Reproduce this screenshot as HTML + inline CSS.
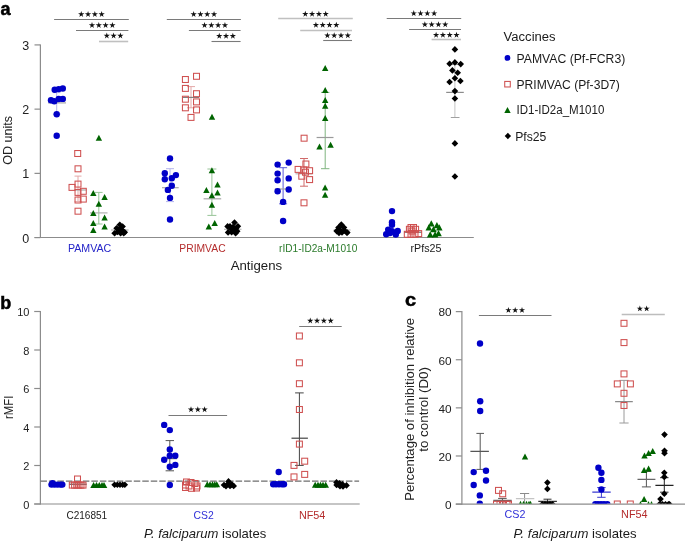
<!DOCTYPE html>
<html><head><meta charset="utf-8"><style>
html,body{margin:0;padding:0;background:#fff;}
body{width:685px;height:541px;overflow:hidden;}
svg{display:block;will-change:transform;}
text{font-family:"Liberation Sans",sans-serif;}
</style></head><body>
<svg width="685" height="541" viewBox="0 0 685 541" font-family="Liberation Sans, sans-serif">
<rect width="685" height="541" fill="#fff"/>
<text x="0.50" y="15.00" font-size="18" text-anchor="start" fill="#000" font-weight="bold" font-style="normal" stroke="#000" stroke-width="0.5">a</text>
<line x1="40.40" y1="44.41" x2="40.40" y2="237.90" stroke="#8c8c8c" stroke-width="1.2" />
<line x1="34.50" y1="237.50" x2="473.80" y2="237.50" stroke="#8c8c8c" stroke-width="1.2" />
<line x1="34.50" y1="237.60" x2="40.40" y2="237.60" stroke="#8c8c8c" stroke-width="1.2" />
<text x="29.30" y="242.60" font-size="12.5" text-anchor="end" fill="#222" font-weight="normal" font-style="normal" >0</text>
<line x1="34.50" y1="173.37" x2="40.40" y2="173.37" stroke="#8c8c8c" stroke-width="1.2" />
<text x="29.30" y="178.37" font-size="12.5" text-anchor="end" fill="#222" font-weight="normal" font-style="normal" >1</text>
<line x1="34.50" y1="109.14" x2="40.40" y2="109.14" stroke="#8c8c8c" stroke-width="1.2" />
<text x="29.30" y="114.14" font-size="12.5" text-anchor="end" fill="#222" font-weight="normal" font-style="normal" >2</text>
<line x1="34.50" y1="44.91" x2="40.40" y2="44.91" stroke="#8c8c8c" stroke-width="1.2" />
<text x="29.30" y="49.91" font-size="12.5" text-anchor="end" fill="#222" font-weight="normal" font-style="normal" >3</text>
<text x="0" y="0" font-size="12.5" fill="#222" text-anchor="middle" textLength="48.80" lengthAdjust="spacingAndGlyphs" transform="translate(12.30 140.40) rotate(-90)">OD units</text>
<text x="67.90" y="251.90" font-size="10.6" fill="#2424c8" font-weight="normal" textLength="43.40" lengthAdjust="spacingAndGlyphs" >PAMVAC</text>
<text x="179.30" y="251.90" font-size="10.6" fill="#b42c2c" font-weight="normal" textLength="46.30" lengthAdjust="spacingAndGlyphs" >PRIMVAC</text>
<text x="279.10" y="251.90" font-size="10.6" fill="#2a7a2a" font-weight="normal" textLength="78.20" lengthAdjust="spacingAndGlyphs" >rID1-ID2a-M1010</text>
<text x="410.50" y="251.90" font-size="10.6" fill="#1a1a1a" font-weight="normal" textLength="30.90" lengthAdjust="spacingAndGlyphs" >rPfs25</text>
<text x="230.70" y="269.60" font-size="12.9" fill="#1a1a1a" font-weight="normal" textLength="51.40" lengthAdjust="spacingAndGlyphs" >Antigens</text>
<line x1="54.10" y1="19.50" x2="128.80" y2="19.50" stroke="#7a7a7a" stroke-width="1.1" />
<polygon points="81.25,10.95 81.98,13.24 84.39,13.23 82.44,14.64 83.19,16.92 81.25,15.50 79.31,16.92 80.06,14.64 78.11,13.23 80.52,13.24" fill="#111"/>
<polygon points="88.05,10.95 88.78,13.24 91.19,13.23 89.24,14.64 89.99,16.92 88.05,15.50 86.11,16.92 86.86,14.64 84.91,13.23 87.32,13.24" fill="#111"/>
<polygon points="94.85,10.95 95.58,13.24 97.99,13.23 96.04,14.64 96.79,16.92 94.85,15.50 92.91,16.92 93.66,14.64 91.71,13.23 94.12,13.24" fill="#111"/>
<polygon points="101.65,10.95 102.38,13.24 104.79,13.23 102.84,14.64 103.59,16.92 101.65,15.50 99.71,16.92 100.46,14.64 98.51,13.23 100.92,13.24" fill="#111"/>
<line x1="76.00" y1="30.50" x2="128.40" y2="30.50" stroke="#7a7a7a" stroke-width="1.1" />
<polygon points="92.00,22.05 92.73,24.34 95.14,24.33 93.19,25.74 93.94,28.02 92.00,26.60 90.06,28.02 90.81,25.74 88.86,24.33 91.27,24.34" fill="#111"/>
<polygon points="98.80,22.05 99.53,24.34 101.94,24.33 99.99,25.74 100.74,28.02 98.80,26.60 96.86,28.02 97.61,25.74 95.66,24.33 98.07,24.34" fill="#111"/>
<polygon points="105.60,22.05 106.33,24.34 108.74,24.33 106.79,25.74 107.54,28.02 105.60,26.60 103.66,28.02 104.41,25.74 102.46,24.33 104.87,24.34" fill="#111"/>
<polygon points="112.40,22.05 113.13,24.34 115.54,24.33 113.59,25.74 114.34,28.02 112.40,26.60 110.46,28.02 111.21,25.74 109.26,24.33 111.67,24.34" fill="#111"/>
<line x1="99.00" y1="41.50" x2="128.20" y2="41.50" stroke="#c0c0c0" stroke-width="1.6" />
<polygon points="106.80,32.55 107.53,34.84 109.94,34.83 107.99,36.24 108.74,38.52 106.80,37.10 104.86,38.52 105.61,36.24 103.66,34.83 106.07,34.84" fill="#111"/>
<polygon points="113.60,32.55 114.33,34.84 116.74,34.83 114.79,36.24 115.54,38.52 113.60,37.10 111.66,38.52 112.41,36.24 110.46,34.83 112.87,34.84" fill="#111"/>
<polygon points="120.40,32.55 121.13,34.84 123.54,34.83 121.59,36.24 122.34,38.52 120.40,37.10 118.46,38.52 119.21,36.24 117.26,34.83 119.67,34.84" fill="#111"/>
<line x1="166.80" y1="19.50" x2="240.90" y2="19.50" stroke="#7a7a7a" stroke-width="1.1" />
<polygon points="193.65,10.95 194.38,13.24 196.79,13.23 194.84,14.64 195.59,16.92 193.65,15.50 191.71,16.92 192.46,14.64 190.51,13.23 192.92,13.24" fill="#111"/>
<polygon points="200.45,10.95 201.18,13.24 203.59,13.23 201.64,14.64 202.39,16.92 200.45,15.50 198.51,16.92 199.26,14.64 197.31,13.23 199.72,13.24" fill="#111"/>
<polygon points="207.25,10.95 207.98,13.24 210.39,13.23 208.44,14.64 209.19,16.92 207.25,15.50 205.31,16.92 206.06,14.64 204.11,13.23 206.52,13.24" fill="#111"/>
<polygon points="214.05,10.95 214.78,13.24 217.19,13.23 215.24,14.64 215.99,16.92 214.05,15.50 212.11,16.92 212.86,14.64 210.91,13.23 213.32,13.24" fill="#111"/>
<line x1="188.90" y1="30.50" x2="240.60" y2="30.50" stroke="#7a7a7a" stroke-width="1.1" />
<polygon points="204.55,22.05 205.28,24.34 207.69,24.33 205.74,25.74 206.49,28.02 204.55,26.60 202.61,28.02 203.36,25.74 201.41,24.33 203.82,24.34" fill="#111"/>
<polygon points="211.35,22.05 212.08,24.34 214.49,24.33 212.54,25.74 213.29,28.02 211.35,26.60 209.41,28.02 210.16,25.74 208.21,24.33 210.62,24.34" fill="#111"/>
<polygon points="218.15,22.05 218.88,24.34 221.29,24.33 219.34,25.74 220.09,28.02 218.15,26.60 216.21,28.02 216.96,25.74 215.01,24.33 217.42,24.34" fill="#111"/>
<polygon points="224.95,22.05 225.68,24.34 228.09,24.33 226.14,25.74 226.89,28.02 224.95,26.60 223.01,28.02 223.76,25.74 221.81,24.33 224.22,24.34" fill="#111"/>
<line x1="211.50" y1="41.50" x2="240.60" y2="41.50" stroke="#7a7a7a" stroke-width="1.1" />
<polygon points="219.25,32.75 219.98,35.04 222.39,35.03 220.44,36.44 221.19,38.72 219.25,37.30 217.31,38.72 218.06,36.44 216.11,35.03 218.52,35.04" fill="#111"/>
<polygon points="226.05,32.75 226.78,35.04 229.19,35.03 227.24,36.44 227.99,38.72 226.05,37.30 224.11,38.72 224.86,36.44 222.91,35.03 225.32,35.04" fill="#111"/>
<polygon points="232.85,32.75 233.58,35.04 235.99,35.03 234.04,36.44 234.79,38.72 232.85,37.30 230.91,38.72 231.66,36.44 229.71,35.03 232.12,35.04" fill="#111"/>
<line x1="278.20" y1="18.50" x2="352.80" y2="18.50" stroke="#c0c0c0" stroke-width="1.6" />
<polygon points="305.30,10.70 306.03,12.99 308.44,12.98 306.49,14.39 307.24,16.67 305.30,15.25 303.36,16.67 304.11,14.39 302.16,12.98 304.57,12.99" fill="#111"/>
<polygon points="312.10,10.70 312.83,12.99 315.24,12.98 313.29,14.39 314.04,16.67 312.10,15.25 310.16,16.67 310.91,14.39 308.96,12.98 311.37,12.99" fill="#111"/>
<polygon points="318.90,10.70 319.63,12.99 322.04,12.98 320.09,14.39 320.84,16.67 318.90,15.25 316.96,16.67 317.71,14.39 315.76,12.98 318.17,12.99" fill="#111"/>
<polygon points="325.70,10.70 326.43,12.99 328.84,12.98 326.89,14.39 327.64,16.67 325.70,15.25 323.76,16.67 324.51,14.39 322.56,12.98 324.97,12.99" fill="#111"/>
<line x1="300.20" y1="30.50" x2="352.00" y2="30.50" stroke="#c0c0c0" stroke-width="1.6" />
<polygon points="315.90,21.75 316.63,24.04 319.04,24.03 317.09,25.44 317.84,27.72 315.90,26.30 313.96,27.72 314.71,25.44 312.76,24.03 315.17,24.04" fill="#111"/>
<polygon points="322.70,21.75 323.43,24.04 325.84,24.03 323.89,25.44 324.64,27.72 322.70,26.30 320.76,27.72 321.51,25.44 319.56,24.03 321.97,24.04" fill="#111"/>
<polygon points="329.50,21.75 330.23,24.04 332.64,24.03 330.69,25.44 331.44,27.72 329.50,26.30 327.56,27.72 328.31,25.44 326.36,24.03 328.77,24.04" fill="#111"/>
<polygon points="336.30,21.75 337.03,24.04 339.44,24.03 337.49,25.44 338.24,27.72 336.30,26.30 334.36,27.72 335.11,25.44 333.16,24.03 335.57,24.04" fill="#111"/>
<line x1="323.20" y1="40.50" x2="352.00" y2="40.50" stroke="#7a7a7a" stroke-width="1.1" />
<polygon points="327.40,32.20 328.13,34.49 330.54,34.48 328.59,35.89 329.34,38.17 327.40,36.75 325.46,38.17 326.21,35.89 324.26,34.48 326.67,34.49" fill="#111"/>
<polygon points="334.20,32.20 334.93,34.49 337.34,34.48 335.39,35.89 336.14,38.17 334.20,36.75 332.26,38.17 333.01,35.89 331.06,34.48 333.47,34.49" fill="#111"/>
<polygon points="341.00,32.20 341.73,34.49 344.14,34.48 342.19,35.89 342.94,38.17 341.00,36.75 339.06,38.17 339.81,35.89 337.86,34.48 340.27,34.49" fill="#111"/>
<polygon points="347.80,32.20 348.53,34.49 350.94,34.48 348.99,35.89 349.74,38.17 347.80,36.75 345.86,38.17 346.61,35.89 344.66,34.48 347.07,34.49" fill="#111"/>
<line x1="386.70" y1="18.50" x2="461.20" y2="18.50" stroke="#7a7a7a" stroke-width="1.1" />
<polygon points="413.75,10.10 414.48,12.39 416.89,12.38 414.94,13.79 415.69,16.07 413.75,14.65 411.81,16.07 412.56,13.79 410.61,12.38 413.02,12.39" fill="#111"/>
<polygon points="420.55,10.10 421.28,12.39 423.69,12.38 421.74,13.79 422.49,16.07 420.55,14.65 418.61,16.07 419.36,13.79 417.41,12.38 419.82,12.39" fill="#111"/>
<polygon points="427.35,10.10 428.08,12.39 430.49,12.38 428.54,13.79 429.29,16.07 427.35,14.65 425.41,16.07 426.16,13.79 424.21,12.38 426.62,12.39" fill="#111"/>
<polygon points="434.15,10.10 434.88,12.39 437.29,12.38 435.34,13.79 436.09,16.07 434.15,14.65 432.21,16.07 432.96,13.79 431.01,12.38 433.42,12.39" fill="#111"/>
<line x1="409.10" y1="29.50" x2="461.00" y2="29.50" stroke="#7a7a7a" stroke-width="1.1" />
<polygon points="424.85,21.30 425.58,23.59 427.99,23.58 426.04,24.99 426.79,27.27 424.85,25.85 422.91,27.27 423.66,24.99 421.71,23.58 424.12,23.59" fill="#111"/>
<polygon points="431.65,21.30 432.38,23.59 434.79,23.58 432.84,24.99 433.59,27.27 431.65,25.85 429.71,27.27 430.46,24.99 428.51,23.58 430.92,23.59" fill="#111"/>
<polygon points="438.45,21.30 439.18,23.59 441.59,23.58 439.64,24.99 440.39,27.27 438.45,25.85 436.51,27.27 437.26,24.99 435.31,23.58 437.72,23.59" fill="#111"/>
<polygon points="445.25,21.30 445.98,23.59 448.39,23.58 446.44,24.99 447.19,27.27 445.25,25.85 443.31,27.27 444.06,24.99 442.11,23.58 444.52,23.59" fill="#111"/>
<line x1="431.60" y1="39.50" x2="461.00" y2="39.50" stroke="#c0c0c0" stroke-width="1.6" />
<polygon points="436.10,31.70 436.83,33.99 439.24,33.98 437.29,35.39 438.04,37.67 436.10,36.25 434.16,37.67 434.91,35.39 432.96,33.98 435.37,33.99" fill="#111"/>
<polygon points="442.90,31.70 443.63,33.99 446.04,33.98 444.09,35.39 444.84,37.67 442.90,36.25 440.96,37.67 441.71,35.39 439.76,33.98 442.17,33.99" fill="#111"/>
<polygon points="449.70,31.70 450.43,33.99 452.84,33.98 450.89,35.39 451.64,37.67 449.70,36.25 447.76,37.67 448.51,35.39 446.56,33.98 448.97,33.99" fill="#111"/>
<polygon points="456.50,31.70 457.23,33.99 459.64,33.98 457.69,35.39 458.44,37.67 456.50,36.25 454.56,37.67 455.31,35.39 453.36,33.98 455.77,33.99" fill="#111"/>
<line x1="56.70" y1="92.60" x2="56.70" y2="114.00" stroke="#b4b4ec" stroke-width="1.0" />
<line x1="52.90" y1="92.60" x2="60.50" y2="92.60" stroke="#b4b4ec" stroke-width="1.0" />
<line x1="52.90" y1="114.00" x2="60.50" y2="114.00" stroke="#b4b4ec" stroke-width="1.0" />
<line x1="48.00" y1="102.90" x2="66.00" y2="102.90" stroke="#a8a8a8" stroke-width="1.2" />
<line x1="78.00" y1="176.10" x2="78.00" y2="201.60" stroke="#e4a8a8" stroke-width="1.0" />
<line x1="74.50" y1="176.10" x2="81.50" y2="176.10" stroke="#e4a8a8" stroke-width="1.0" />
<line x1="74.50" y1="201.60" x2="81.50" y2="201.60" stroke="#e4a8a8" stroke-width="1.0" />
<line x1="75.00" y1="190.00" x2="86.60" y2="190.00" stroke="#a8a8a8" stroke-width="1.2" />
<line x1="98.80" y1="192.40" x2="98.80" y2="224.00" stroke="#98c498" stroke-width="1.0" />
<line x1="95.00" y1="192.40" x2="102.60" y2="192.40" stroke="#98c498" stroke-width="1.0" />
<line x1="95.00" y1="224.00" x2="102.60" y2="224.00" stroke="#98c498" stroke-width="1.0" />
<line x1="90.00" y1="212.90" x2="107.50" y2="212.90" stroke="#b0b0b0" stroke-width="1.2" />
<line x1="111.00" y1="230.00" x2="128.60" y2="230.00" stroke="#b8b8b8" stroke-width="1.2" />
<circle cx="54.7" cy="89.8" r="3.2" fill="#0000c8"/>
<circle cx="58.7" cy="89.1" r="3.2" fill="#0000c8"/>
<circle cx="62.8" cy="88.5" r="3.2" fill="#0000c8"/>
<circle cx="51.0" cy="100.2" r="3.2" fill="#0000c8"/>
<circle cx="54.3" cy="101.3" r="3.2" fill="#0000c8"/>
<circle cx="58.7" cy="99.0" r="3.2" fill="#0000c8"/>
<circle cx="62.8" cy="98.9" r="3.2" fill="#0000c8"/>
<circle cx="56.7" cy="114.3" r="3.2" fill="#0000c8"/>
<circle cx="56.7" cy="135.8" r="3.2" fill="#0000c8"/>
<rect x="74.73" y="150.53" width="5.95" height="5.95" fill="none" stroke="#cf5050" stroke-width="1.05"/>
<rect x="75.03" y="165.83" width="5.95" height="5.95" fill="none" stroke="#cf5050" stroke-width="1.05"/>
<rect x="75.03" y="181.12" width="5.95" height="5.95" fill="none" stroke="#cf5050" stroke-width="1.05"/>
<rect x="69.03" y="184.43" width="5.95" height="5.95" fill="none" stroke="#cf5050" stroke-width="1.05"/>
<rect x="80.33" y="188.33" width="5.95" height="5.95" fill="none" stroke="#cf5050" stroke-width="1.05"/>
<rect x="75.03" y="189.43" width="5.95" height="5.95" fill="none" stroke="#cf5050" stroke-width="1.05"/>
<rect x="75.03" y="197.03" width="5.95" height="5.95" fill="none" stroke="#cf5050" stroke-width="1.05"/>
<rect x="80.33" y="196.12" width="5.95" height="5.95" fill="none" stroke="#cf5050" stroke-width="1.05"/>
<rect x="75.03" y="208.22" width="5.95" height="5.95" fill="none" stroke="#cf5050" stroke-width="1.05"/>
<polygon points="98.90,134.80 102.10,140.80 95.70,140.80" fill="#006400"/>
<polygon points="93.30,190.00 96.50,196.00 90.10,196.00" fill="#006400"/>
<polygon points="104.60,194.10 107.80,200.10 101.40,200.10" fill="#006400"/>
<polygon points="98.80,200.80 102.00,206.80 95.60,206.80" fill="#006400"/>
<polygon points="93.30,209.90 96.50,215.90 90.10,215.90" fill="#006400"/>
<polygon points="104.60,214.40 107.80,220.40 101.40,220.40" fill="#006400"/>
<polygon points="93.30,219.90 96.50,225.90 90.10,225.90" fill="#006400"/>
<polygon points="104.60,223.60 107.80,229.60 101.40,229.60" fill="#006400"/>
<polygon points="93.30,226.90 96.50,232.90 90.10,232.90" fill="#006400"/>
<polygon points="119.80,221.50 123.10,224.80 119.80,228.10 116.50,224.80" fill="#000"/>
<polygon points="122.60,223.20 125.90,226.50 122.60,229.80 119.30,226.50" fill="#000"/>
<polygon points="116.60,224.90 119.90,228.20 116.60,231.50 113.30,228.20" fill="#000"/>
<polygon points="119.50,225.70 122.80,229.00 119.50,232.30 116.20,229.00" fill="#000"/>
<polygon points="122.00,226.70 125.30,230.00 122.00,233.30 118.70,230.00" fill="#000"/>
<polygon points="124.80,228.90 128.10,232.20 124.80,235.50 121.50,232.20" fill="#000"/>
<polygon points="123.70,229.90 127.00,233.20 123.70,236.50 120.40,233.20" fill="#000"/>
<polygon points="120.60,229.90 123.90,233.20 120.60,236.50 117.30,233.20" fill="#000"/>
<polygon points="117.50,228.70 120.80,232.00 117.50,235.30 114.20,232.00" fill="#000"/>
<polygon points="114.60,230.00 117.90,233.30 114.60,236.60 111.30,233.30" fill="#000"/>
<line x1="170.00" y1="168.70" x2="170.00" y2="201.60" stroke="#b4b4ec" stroke-width="1.0" />
<line x1="166.00" y1="168.70" x2="174.00" y2="168.70" stroke="#b4b4ec" stroke-width="1.0" />
<line x1="166.00" y1="201.60" x2="174.00" y2="201.60" stroke="#b4b4ec" stroke-width="1.0" />
<line x1="162.00" y1="187.70" x2="178.70" y2="187.70" stroke="#a8a8a8" stroke-width="1.2" />
<line x1="191.00" y1="86.60" x2="191.00" y2="107.80" stroke="#e4a8a8" stroke-width="1.0" />
<line x1="187.00" y1="86.60" x2="195.00" y2="86.60" stroke="#e4a8a8" stroke-width="1.0" />
<line x1="187.00" y1="107.80" x2="195.00" y2="107.80" stroke="#e4a8a8" stroke-width="1.0" />
<line x1="182.20" y1="97.40" x2="199.20" y2="97.40" stroke="#808080" stroke-width="1.2" />
<line x1="211.90" y1="169.00" x2="211.90" y2="215.40" stroke="#98c498" stroke-width="1.0" />
<line x1="207.40" y1="169.00" x2="216.40" y2="169.00" stroke="#98c498" stroke-width="1.0" />
<line x1="207.40" y1="215.40" x2="216.40" y2="215.40" stroke="#98c498" stroke-width="1.0" />
<line x1="203.60" y1="198.80" x2="221.20" y2="198.80" stroke="#a8a8a8" stroke-width="1.2" />
<line x1="224.00" y1="229.30" x2="241.50" y2="229.30" stroke="#b8b8b8" stroke-width="1.2" />
<circle cx="170.0" cy="158.5" r="3.2" fill="#0000c8"/>
<circle cx="164.8" cy="173.3" r="3.2" fill="#0000c8"/>
<circle cx="175.9" cy="175.1" r="3.2" fill="#0000c8"/>
<circle cx="164.8" cy="179.2" r="3.2" fill="#0000c8"/>
<circle cx="171.8" cy="178.3" r="3.2" fill="#0000c8"/>
<circle cx="171.8" cy="185.8" r="3.2" fill="#0000c8"/>
<circle cx="167.9" cy="189.9" r="3.2" fill="#0000c8"/>
<circle cx="170.0" cy="197.9" r="3.2" fill="#0000c8"/>
<circle cx="170.0" cy="219.5" r="3.2" fill="#0000c8"/>
<rect x="182.43" y="76.53" width="5.95" height="5.95" fill="none" stroke="#cf5050" stroke-width="1.05"/>
<rect x="193.53" y="73.33" width="5.95" height="5.95" fill="none" stroke="#cf5050" stroke-width="1.05"/>
<rect x="182.43" y="85.43" width="5.95" height="5.95" fill="none" stroke="#cf5050" stroke-width="1.05"/>
<rect x="193.53" y="90.73" width="5.95" height="5.95" fill="none" stroke="#cf5050" stroke-width="1.05"/>
<rect x="182.43" y="96.23" width="5.95" height="5.95" fill="none" stroke="#cf5050" stroke-width="1.05"/>
<rect x="193.53" y="98.93" width="5.95" height="5.95" fill="none" stroke="#cf5050" stroke-width="1.05"/>
<rect x="182.43" y="104.83" width="5.95" height="5.95" fill="none" stroke="#cf5050" stroke-width="1.05"/>
<rect x="193.53" y="106.93" width="5.95" height="5.95" fill="none" stroke="#cf5050" stroke-width="1.05"/>
<rect x="188.03" y="114.43" width="5.95" height="5.95" fill="none" stroke="#cf5050" stroke-width="1.05"/>
<polygon points="212.00,113.70 215.20,119.70 208.80,119.70" fill="#006400"/>
<polygon points="211.90,167.20 215.10,173.20 208.70,173.20" fill="#006400"/>
<polygon points="217.50,181.60 220.70,187.60 214.30,187.60" fill="#006400"/>
<polygon points="206.40,187.00 209.60,193.00 203.20,193.00" fill="#006400"/>
<polygon points="217.50,189.40 220.70,195.40 214.30,195.40" fill="#006400"/>
<polygon points="211.90,192.20 215.10,198.20 208.70,198.20" fill="#006400"/>
<polygon points="211.90,201.80 215.10,207.80 208.70,207.80" fill="#006400"/>
<polygon points="214.70,219.90 217.90,225.90 211.50,225.90" fill="#006400"/>
<polygon points="208.80,223.60 212.00,229.60 205.60,229.60" fill="#006400"/>
<polygon points="234.50,219.30 237.80,222.60 234.50,225.90 231.20,222.60" fill="#000"/>
<polygon points="237.90,222.90 241.20,226.20 237.90,229.50 234.60,226.20" fill="#000"/>
<polygon points="237.20,228.00 240.50,231.30 237.20,234.60 233.90,231.30" fill="#000"/>
<polygon points="235.60,230.00 238.90,233.30 235.60,236.60 232.30,233.30" fill="#000"/>
<polygon points="231.60,228.90 234.90,232.20 231.60,235.50 228.30,232.20" fill="#000"/>
<polygon points="228.10,229.10 231.40,232.40 228.10,235.70 224.80,232.40" fill="#000"/>
<polygon points="227.60,223.10 230.90,226.40 227.60,229.70 224.30,226.40" fill="#000"/>
<polygon points="230.00,223.10 233.30,226.40 230.00,229.70 226.70,226.40" fill="#000"/>
<polygon points="233.00,223.70 236.30,227.00 233.00,230.30 229.70,227.00" fill="#000"/>
<polygon points="234.00,226.20 237.30,229.50 234.00,232.80 230.70,229.50" fill="#000"/>
<polygon points="231.00,225.70 234.30,229.00 231.00,232.30 227.70,229.00" fill="#000"/>
<polygon points="236.00,225.20 239.30,228.50 236.00,231.80 232.70,228.50" fill="#000"/>
<line x1="283.10" y1="167.70" x2="283.10" y2="203.80" stroke="#5a5ad8" stroke-width="1.0" />
<line x1="279.10" y1="167.70" x2="287.10" y2="167.70" stroke="#5a5ad8" stroke-width="1.0" />
<line x1="279.10" y1="203.80" x2="287.10" y2="203.80" stroke="#5a5ad8" stroke-width="1.0" />
<line x1="274.80" y1="189.00" x2="286.80" y2="189.00" stroke="#a0a0a0" stroke-width="1.2" />
<line x1="304.00" y1="158.50" x2="304.00" y2="186.20" stroke="#d06a6a" stroke-width="1.0" />
<line x1="300.00" y1="158.50" x2="308.00" y2="158.50" stroke="#d06a6a" stroke-width="1.0" />
<line x1="300.00" y1="186.20" x2="308.00" y2="186.20" stroke="#d06a6a" stroke-width="1.0" />
<line x1="295.50" y1="173.80" x2="312.20" y2="173.80" stroke="#b8b8b8" stroke-width="1.2" />
<line x1="325.20" y1="92.40" x2="325.20" y2="168.70" stroke="#7fb47f" stroke-width="1.0" />
<line x1="321.00" y1="92.40" x2="329.40" y2="92.40" stroke="#7fb47f" stroke-width="1.0" />
<line x1="321.00" y1="168.70" x2="329.40" y2="168.70" stroke="#7fb47f" stroke-width="1.0" />
<line x1="316.60" y1="137.50" x2="333.50" y2="137.50" stroke="#9a9a9a" stroke-width="1.2" />
<line x1="333.60" y1="230.00" x2="350.60" y2="230.00" stroke="#b8b8b8" stroke-width="1.2" />
<circle cx="288.7" cy="162.6" r="3.2" fill="#0000c8"/>
<circle cx="277.6" cy="164.6" r="3.2" fill="#0000c8"/>
<circle cx="277.6" cy="173.6" r="3.2" fill="#0000c8"/>
<circle cx="277.6" cy="180.3" r="3.2" fill="#0000c8"/>
<circle cx="288.7" cy="178.4" r="3.2" fill="#0000c8"/>
<circle cx="277.6" cy="191.2" r="3.2" fill="#0000c8"/>
<circle cx="288.7" cy="189.5" r="3.2" fill="#0000c8"/>
<circle cx="283.1" cy="201.9" r="3.2" fill="#0000c8"/>
<circle cx="283.1" cy="221.0" r="3.2" fill="#0000c8"/>
<rect x="301.12" y="135.22" width="5.95" height="5.95" fill="none" stroke="#cf5050" stroke-width="1.05"/>
<rect x="302.92" y="161.03" width="5.95" height="5.95" fill="none" stroke="#cf5050" stroke-width="1.05"/>
<rect x="295.12" y="166.43" width="5.95" height="5.95" fill="none" stroke="#cf5050" stroke-width="1.05"/>
<rect x="300.72" y="167.03" width="5.95" height="5.95" fill="none" stroke="#cf5050" stroke-width="1.05"/>
<rect x="306.62" y="167.72" width="5.95" height="5.95" fill="none" stroke="#cf5050" stroke-width="1.05"/>
<rect x="298.82" y="173.22" width="5.95" height="5.95" fill="none" stroke="#cf5050" stroke-width="1.05"/>
<rect x="306.62" y="176.62" width="5.95" height="5.95" fill="none" stroke="#cf5050" stroke-width="1.05"/>
<rect x="302.52" y="169.22" width="5.95" height="5.95" fill="none" stroke="#cf5050" stroke-width="1.05"/>
<rect x="301.02" y="199.83" width="5.95" height="5.95" fill="none" stroke="#cf5050" stroke-width="1.05"/>
<polygon points="325.20,65.00 328.40,71.00 322.00,71.00" fill="#006400"/>
<polygon points="325.20,87.10 328.40,93.10 322.00,93.10" fill="#006400"/>
<polygon points="325.20,97.00 328.40,103.00 322.00,103.00" fill="#006400"/>
<polygon points="325.20,102.80 328.40,108.80 322.00,108.80" fill="#006400"/>
<polygon points="325.20,114.90 328.40,120.90 322.00,120.90" fill="#006400"/>
<polygon points="319.50,143.50 322.70,149.50 316.30,149.50" fill="#006400"/>
<polygon points="330.60,141.70 333.80,147.70 327.40,147.70" fill="#006400"/>
<polygon points="325.10,184.40 328.30,190.40 321.90,190.40" fill="#006400"/>
<polygon points="325.10,191.80 328.30,197.80 321.90,197.80" fill="#006400"/>
<polygon points="341.30,221.30 344.60,224.60 341.30,227.90 338.00,224.60" fill="#000"/>
<polygon points="344.00,224.20 347.30,227.50 344.00,230.80 340.70,227.50" fill="#000"/>
<polygon points="338.50,224.20 341.80,227.50 338.50,230.80 335.20,227.50" fill="#000"/>
<polygon points="336.70,227.80 340.00,231.10 336.70,234.40 333.40,231.10" fill="#000"/>
<polygon points="340.50,227.20 343.80,230.50 340.50,233.80 337.20,230.50" fill="#000"/>
<polygon points="344.50,227.20 347.80,230.50 344.50,233.80 341.20,230.50" fill="#000"/>
<polygon points="346.90,229.50 350.20,232.80 346.90,236.10 343.60,232.80" fill="#000"/>
<polygon points="342.00,229.20 345.30,232.50 342.00,235.80 338.70,232.50" fill="#000"/>
<polygon points="347.30,229.20 350.60,232.50 347.30,235.80 344.00,232.50" fill="#000"/>
<polygon points="339.00,229.70 342.30,233.00 339.00,236.30 335.70,233.00" fill="#000"/>
<line x1="454.90" y1="64.50" x2="454.90" y2="117.50" stroke="#c4c4c4" stroke-width="1.0" />
<line x1="450.80" y1="117.50" x2="459.50" y2="117.50" stroke="#a0a0a0" stroke-width="1.0" />
<line x1="450.80" y1="64.50" x2="459.50" y2="64.50" stroke="#a0a0a0" stroke-width="1.0" />
<line x1="446.20" y1="92.40" x2="463.80" y2="92.40" stroke="#8c8c8c" stroke-width="1.2" />
<circle cx="392.0" cy="211.1" r="3.2" fill="#0000c8"/>
<circle cx="392.0" cy="222.2" r="3.2" fill="#0000c8"/>
<circle cx="392.0" cy="224.7" r="3.2" fill="#0000c8"/>
<circle cx="388.2" cy="229.6" r="3.2" fill="#0000c8"/>
<circle cx="397.7" cy="231.0" r="3.2" fill="#0000c8"/>
<circle cx="386.2" cy="234.2" r="3.2" fill="#0000c8"/>
<circle cx="395.8" cy="234.6" r="3.2" fill="#0000c8"/>
<circle cx="392.0" cy="231.3" r="3.2" fill="#0000c8"/>
<circle cx="390.0" cy="233.0" r="3.2" fill="#0000c8"/>
<line x1="404.00" y1="232.20" x2="422.00" y2="232.20" stroke="#555" stroke-width="1.0" />
<rect x="408.02" y="224.53" width="5.95" height="5.95" fill="none" stroke="#cf5050" stroke-width="1.05"/>
<rect x="410.52" y="224.53" width="5.95" height="5.95" fill="none" stroke="#cf5050" stroke-width="1.05"/>
<rect x="406.42" y="226.33" width="5.95" height="5.95" fill="none" stroke="#cf5050" stroke-width="1.05"/>
<rect x="412.62" y="226.33" width="5.95" height="5.95" fill="none" stroke="#cf5050" stroke-width="1.05"/>
<rect x="409.02" y="228.03" width="5.95" height="5.95" fill="none" stroke="#cf5050" stroke-width="1.05"/>
<rect x="404.32" y="231.33" width="5.95" height="5.95" fill="none" stroke="#cf5050" stroke-width="1.05"/>
<rect x="408.02" y="231.33" width="5.95" height="5.95" fill="none" stroke="#cf5050" stroke-width="1.05"/>
<rect x="412.02" y="231.33" width="5.95" height="5.95" fill="none" stroke="#cf5050" stroke-width="1.05"/>
<rect x="415.72" y="230.62" width="5.95" height="5.95" fill="none" stroke="#cf5050" stroke-width="1.05"/>
<polygon points="431.30,220.19 434.60,226.39 428.00,226.39" fill="#006400"/>
<polygon points="436.90,221.99 440.20,228.19 433.60,228.19" fill="#006400"/>
<polygon points="428.80,224.19 432.10,230.39 425.50,230.39" fill="#006400"/>
<polygon points="439.30,224.19 442.60,230.39 436.00,230.39" fill="#006400"/>
<polygon points="433.50,226.09 436.80,232.29 430.20,232.29" fill="#006400"/>
<polygon points="430.20,231.29 433.50,237.49 426.90,237.49" fill="#006400"/>
<polygon points="435.10,231.29 438.40,237.49 431.80,237.49" fill="#006400"/>
<polygon points="438.50,230.09 441.80,236.29 435.20,236.29" fill="#006400"/>
<polygon points="454.90,46.10 458.20,49.40 454.90,52.70 451.60,49.40" fill="#000"/>
<polygon points="449.60,60.40 452.90,63.70 449.60,67.00 446.30,63.70" fill="#000"/>
<polygon points="454.90,59.10 458.20,62.40 454.90,65.70 451.60,62.40" fill="#000"/>
<polygon points="460.70,60.80 464.00,64.10 460.70,67.40 457.40,64.10" fill="#000"/>
<polygon points="452.40,67.10 455.70,70.40 452.40,73.70 449.10,70.40" fill="#000"/>
<polygon points="457.70,69.40 461.00,72.70 457.70,76.00 454.40,72.70" fill="#000"/>
<polygon points="454.90,74.90 458.20,78.20 454.90,81.50 451.60,78.20" fill="#000"/>
<polygon points="449.60,78.70 452.90,82.00 449.60,85.30 446.30,82.00" fill="#000"/>
<polygon points="460.40,77.70 463.70,81.00 460.40,84.30 457.10,81.00" fill="#000"/>
<polygon points="454.90,87.80 458.20,91.10 454.90,94.40 451.60,91.10" fill="#000"/>
<polygon points="454.90,95.20 458.20,98.50 454.90,101.80 451.60,98.50" fill="#000"/>
<polygon points="454.90,140.10 458.20,143.40 454.90,146.70 451.60,143.40" fill="#000"/>
<polygon points="454.90,173.20 458.20,176.50 454.90,179.80 451.60,176.50" fill="#000"/>
<text x="503.60" y="41.40" font-size="12.5" fill="#1a1a1a" font-weight="normal" textLength="52.00" lengthAdjust="spacingAndGlyphs" >Vaccines</text>
<circle cx="507.5" cy="57.9" r="2.9" fill="#0000c8"/>
<text x="516.50" y="62.80" font-size="12.5" fill="#1a1a1a" font-weight="normal" textLength="108.80" lengthAdjust="spacingAndGlyphs" >PAMVAC (Pf-FCR3)</text>
<rect x="504.73" y="81.42" width="5.55" height="5.55" fill="none" stroke="#cf5050" stroke-width="1.05"/>
<text x="516.50" y="88.60" font-size="12.5" fill="#1a1a1a" font-weight="normal" textLength="103.40" lengthAdjust="spacingAndGlyphs" >PRIMVAC (Pf-3D7)</text>
<polygon points="507.50,107.11 510.70,112.91 504.30,112.91" fill="#006400"/>
<text x="516.50" y="114.20" font-size="12.5" fill="#1a1a1a" font-weight="normal" textLength="87.80" lengthAdjust="spacingAndGlyphs" >ID1-ID2a_M1010</text>
<polygon points="507.90,132.80 511.10,136.00 507.90,139.20 504.70,136.00" fill="#000"/>
<text x="515.20" y="140.50" font-size="12.5" fill="#1a1a1a" font-weight="normal" textLength="31.20" lengthAdjust="spacingAndGlyphs" >Pfs25</text>
<text x="0.30" y="309.40" font-size="18" text-anchor="start" fill="#000" font-weight="bold" font-style="normal" stroke="#000" stroke-width="0.5">b</text>
<line x1="40.40" y1="311.00" x2="40.40" y2="504.50" stroke="#8c8c8c" stroke-width="1.2" />
<line x1="34.20" y1="504.00" x2="359.70" y2="504.00" stroke="#8c8c8c" stroke-width="1.2" />
<line x1="34.20" y1="504.00" x2="40.40" y2="504.00" stroke="#8c8c8c" stroke-width="1.2" />
<text x="29.40" y="508.60" font-size="11" text-anchor="end" fill="#222" font-weight="normal" font-style="normal" >0</text>
<line x1="34.20" y1="465.50" x2="40.40" y2="465.50" stroke="#8c8c8c" stroke-width="1.2" />
<text x="29.40" y="470.10" font-size="11" text-anchor="end" fill="#222" font-weight="normal" font-style="normal" >2</text>
<line x1="34.20" y1="427.00" x2="40.40" y2="427.00" stroke="#8c8c8c" stroke-width="1.2" />
<text x="29.40" y="431.60" font-size="11" text-anchor="end" fill="#222" font-weight="normal" font-style="normal" >4</text>
<line x1="34.20" y1="388.50" x2="40.40" y2="388.50" stroke="#8c8c8c" stroke-width="1.2" />
<text x="29.40" y="393.10" font-size="11" text-anchor="end" fill="#222" font-weight="normal" font-style="normal" >6</text>
<line x1="34.20" y1="350.00" x2="40.40" y2="350.00" stroke="#8c8c8c" stroke-width="1.2" />
<text x="29.40" y="354.60" font-size="11" text-anchor="end" fill="#222" font-weight="normal" font-style="normal" >8</text>
<line x1="34.20" y1="311.50" x2="40.40" y2="311.50" stroke="#8c8c8c" stroke-width="1.2" />
<text x="29.40" y="316.10" font-size="11" text-anchor="end" fill="#222" font-weight="normal" font-style="normal" >10</text>
<text x="0" y="0" font-size="12.5" fill="#222" text-anchor="middle" textLength="23.30" lengthAdjust="spacingAndGlyphs" transform="translate(13.10 407.30) rotate(-90)">rMFI</text>
<text x="66.40" y="518.50" font-size="10.6" fill="#1a1a1a" font-weight="normal" textLength="40.80" lengthAdjust="spacingAndGlyphs" >C216851</text>
<text x="193.60" y="518.60" font-size="10.6" fill="#3030d8" font-weight="normal" textLength="20.20" lengthAdjust="spacingAndGlyphs" >CS2</text>
<text x="298.90" y="518.60" font-size="10.6" fill="#b42c2c" font-weight="normal" textLength="26.40" lengthAdjust="spacingAndGlyphs" >NF54</text>
<text x="143.9" y="537.7" font-size="12.4" fill="#1a1a1a" textLength="122.4" lengthAdjust="spacingAndGlyphs"><tspan font-style="italic">P. falciparum</tspan> isolates</text>
<line x1="168.50" y1="415.50" x2="227.10" y2="415.50" stroke="#7a7a7a" stroke-width="1.1" />
<polygon points="191.00,406.20 191.73,408.49 194.14,408.48 192.19,409.89 192.94,412.17 191.00,410.75 189.06,412.17 189.81,409.89 187.86,408.48 190.27,408.49" fill="#111"/>
<polygon points="197.80,406.20 198.53,408.49 200.94,408.48 198.99,409.89 199.74,412.17 197.80,410.75 195.86,412.17 196.61,409.89 194.66,408.48 197.07,408.49" fill="#111"/>
<polygon points="204.60,406.20 205.33,408.49 207.74,408.48 205.79,409.89 206.54,412.17 204.60,410.75 202.66,412.17 203.41,409.89 201.46,408.48 203.87,408.49" fill="#111"/>
<line x1="299.20" y1="326.50" x2="341.70" y2="326.50" stroke="#7a7a7a" stroke-width="1.1" />
<polygon points="310.25,317.50 310.98,319.79 313.39,319.78 311.44,321.19 312.19,323.47 310.25,322.05 308.31,323.47 309.06,321.19 307.11,319.78 309.52,319.79" fill="#111"/>
<polygon points="317.05,317.50 317.78,319.79 320.19,319.78 318.24,321.19 318.99,323.47 317.05,322.05 315.11,323.47 315.86,321.19 313.91,319.78 316.32,319.79" fill="#111"/>
<polygon points="323.85,317.50 324.58,319.79 326.99,319.78 325.04,321.19 325.79,323.47 323.85,322.05 321.91,323.47 322.66,321.19 320.71,319.78 323.12,319.79" fill="#111"/>
<polygon points="330.65,317.50 331.38,319.79 333.79,319.78 331.84,321.19 332.59,323.47 330.65,322.05 328.71,323.47 329.46,321.19 327.51,319.78 329.92,319.79" fill="#111"/>
<line x1="40.45" y1="481.20" x2="359.10" y2="481.20" stroke="#6e6e6e" stroke-width="1.2" stroke-dasharray="6.5 1.985"/>
<circle cx="51.5" cy="484.6" r="3.2" fill="#0000c8"/>
<circle cx="54.5" cy="484.6" r="3.2" fill="#0000c8"/>
<circle cx="57.5" cy="484.6" r="3.2" fill="#0000c8"/>
<circle cx="60.5" cy="484.6" r="3.2" fill="#0000c8"/>
<circle cx="62.3" cy="484.6" r="3.2" fill="#0000c8"/>
<circle cx="52.5" cy="483.2" r="3.2" fill="#0000c8"/>
<line x1="69.00" y1="484.20" x2="86.70" y2="484.20" stroke="#333" stroke-width="1.0" />
<rect x="69.33" y="482.12" width="5.95" height="5.95" fill="none" stroke="#cf5050" stroke-width="1.05"/>
<rect x="71.62" y="482.12" width="5.95" height="5.95" fill="none" stroke="#cf5050" stroke-width="1.05"/>
<rect x="73.83" y="482.12" width="5.95" height="5.95" fill="none" stroke="#cf5050" stroke-width="1.05"/>
<rect x="76.03" y="482.12" width="5.95" height="5.95" fill="none" stroke="#cf5050" stroke-width="1.05"/>
<rect x="78.03" y="482.12" width="5.95" height="5.95" fill="none" stroke="#cf5050" stroke-width="1.05"/>
<rect x="80.03" y="482.12" width="5.95" height="5.95" fill="none" stroke="#cf5050" stroke-width="1.05"/>
<rect x="74.53" y="476.02" width="5.95" height="5.95" fill="none" stroke="#cf5050" stroke-width="1.05"/>
<polygon points="93.60,482.00 96.90,488.00 90.30,488.00" fill="#006400"/>
<polygon points="96.50,482.00 99.80,488.00 93.20,488.00" fill="#006400"/>
<polygon points="99.30,482.00 102.60,488.00 96.00,488.00" fill="#006400"/>
<polygon points="102.00,482.00 105.30,488.00 98.70,488.00" fill="#006400"/>
<polygon points="104.00,482.00 107.30,488.00 100.70,488.00" fill="#006400"/>
<polygon points="114.60,481.50 117.90,484.80 114.60,488.10 111.30,484.80" fill="#000"/>
<polygon points="117.30,481.50 120.60,484.80 117.30,488.10 114.00,484.80" fill="#000"/>
<polygon points="120.00,481.50 123.30,484.80 120.00,488.10 116.70,484.80" fill="#000"/>
<polygon points="122.70,481.50 126.00,484.80 122.70,488.10 119.40,484.80" fill="#000"/>
<polygon points="124.80,481.50 128.10,484.80 124.80,488.10 121.50,484.80" fill="#000"/>
<line x1="169.80" y1="440.60" x2="169.80" y2="470.80" stroke="#555" stroke-width="1.0" />
<line x1="165.60" y1="440.60" x2="174.00" y2="440.60" stroke="#555" stroke-width="1.0" />
<line x1="165.60" y1="470.80" x2="174.00" y2="470.80" stroke="#555" stroke-width="1.0" />
<line x1="163.00" y1="458.60" x2="177.00" y2="458.60" stroke="#666" stroke-width="1.2" />
<circle cx="164.2" cy="424.9" r="3.2" fill="#0000c8"/>
<circle cx="169.8" cy="430.1" r="3.2" fill="#0000c8"/>
<circle cx="169.8" cy="449.5" r="3.2" fill="#0000c8"/>
<circle cx="169.8" cy="455.7" r="3.2" fill="#0000c8"/>
<circle cx="175.3" cy="455.7" r="3.2" fill="#0000c8"/>
<circle cx="164.2" cy="459.8" r="3.2" fill="#0000c8"/>
<circle cx="175.3" cy="464.9" r="3.2" fill="#0000c8"/>
<circle cx="169.8" cy="466.8" r="3.2" fill="#0000c8"/>
<circle cx="169.8" cy="485.0" r="3.2" fill="#0000c8"/>
<rect x="183.53" y="479.02" width="5.95" height="5.95" fill="none" stroke="#cf5050" stroke-width="1.05"/>
<rect x="188.03" y="479.52" width="5.95" height="5.95" fill="none" stroke="#cf5050" stroke-width="1.05"/>
<rect x="192.03" y="480.52" width="5.95" height="5.95" fill="none" stroke="#cf5050" stroke-width="1.05"/>
<rect x="182.53" y="482.02" width="5.95" height="5.95" fill="none" stroke="#cf5050" stroke-width="1.05"/>
<rect x="186.03" y="483.02" width="5.95" height="5.95" fill="none" stroke="#cf5050" stroke-width="1.05"/>
<rect x="182.53" y="484.52" width="5.95" height="5.95" fill="none" stroke="#cf5050" stroke-width="1.05"/>
<rect x="188.53" y="485.32" width="5.95" height="5.95" fill="none" stroke="#cf5050" stroke-width="1.05"/>
<rect x="193.53" y="485.02" width="5.95" height="5.95" fill="none" stroke="#cf5050" stroke-width="1.05"/>
<rect x="194.03" y="483.02" width="5.95" height="5.95" fill="none" stroke="#cf5050" stroke-width="1.05"/>
<polygon points="207.30,481.30 210.60,487.30 204.00,487.30" fill="#006400"/>
<polygon points="210.00,481.30 213.30,487.30 206.70,487.30" fill="#006400"/>
<polygon points="212.50,481.30 215.80,487.30 209.20,487.30" fill="#006400"/>
<polygon points="214.80,481.30 218.10,487.30 211.50,487.30" fill="#006400"/>
<polygon points="216.80,481.30 220.10,487.30 213.50,487.30" fill="#006400"/>
<polygon points="228.50,478.10 231.80,481.40 228.50,484.70 225.20,481.40" fill="#000"/>
<polygon points="224.00,481.70 227.30,485.00 224.00,488.30 220.70,485.00" fill="#000"/>
<polygon points="228.00,480.70 231.30,484.00 228.00,487.30 224.70,484.00" fill="#000"/>
<polygon points="232.00,481.20 235.30,484.50 232.00,487.80 228.70,484.50" fill="#000"/>
<polygon points="233.70,482.70 237.00,486.00 233.70,489.30 230.40,486.00" fill="#000"/>
<polygon points="226.00,482.90 229.30,486.20 226.00,489.50 222.70,486.20" fill="#000"/>
<polygon points="230.00,482.70 233.30,486.00 230.00,489.30 226.70,486.00" fill="#000"/>
<polygon points="231.00,481.70 234.30,485.00 231.00,488.30 227.70,485.00" fill="#000"/>
<line x1="299.40" y1="392.90" x2="299.40" y2="465.40" stroke="#444" stroke-width="1.0" />
<line x1="295.10" y1="392.90" x2="303.70" y2="392.90" stroke="#444" stroke-width="1.0" />
<line x1="295.10" y1="465.40" x2="303.70" y2="465.40" stroke="#444" stroke-width="1.0" />
<line x1="291.50" y1="438.20" x2="307.90" y2="438.20" stroke="#444" stroke-width="1.2" />
<circle cx="278.7" cy="472.0" r="3.2" fill="#0000c8"/>
<circle cx="273.2" cy="484.3" r="3.2" fill="#0000c8"/>
<circle cx="276.0" cy="484.3" r="3.2" fill="#0000c8"/>
<circle cx="279.0" cy="484.3" r="3.2" fill="#0000c8"/>
<circle cx="282.0" cy="484.3" r="3.2" fill="#0000c8"/>
<circle cx="284.0" cy="484.3" r="3.2" fill="#0000c8"/>
<rect x="296.42" y="333.02" width="5.95" height="5.95" fill="none" stroke="#cf5050" stroke-width="1.05"/>
<rect x="296.42" y="359.82" width="5.95" height="5.95" fill="none" stroke="#cf5050" stroke-width="1.05"/>
<rect x="296.42" y="380.72" width="5.95" height="5.95" fill="none" stroke="#cf5050" stroke-width="1.05"/>
<rect x="296.42" y="406.52" width="5.95" height="5.95" fill="none" stroke="#cf5050" stroke-width="1.05"/>
<rect x="296.42" y="441.12" width="5.95" height="5.95" fill="none" stroke="#cf5050" stroke-width="1.05"/>
<rect x="301.72" y="458.22" width="5.95" height="5.95" fill="none" stroke="#cf5050" stroke-width="1.05"/>
<rect x="291.02" y="462.42" width="5.95" height="5.95" fill="none" stroke="#cf5050" stroke-width="1.05"/>
<rect x="301.72" y="471.42" width="5.95" height="5.95" fill="none" stroke="#cf5050" stroke-width="1.05"/>
<rect x="291.02" y="473.92" width="5.95" height="5.95" fill="none" stroke="#cf5050" stroke-width="1.05"/>
<polygon points="315.20,481.70 318.50,487.70 311.90,487.70" fill="#006400"/>
<polygon points="318.00,481.70 321.30,487.70 314.70,487.70" fill="#006400"/>
<polygon points="320.50,481.70 323.80,487.70 317.20,487.70" fill="#006400"/>
<polygon points="323.00,481.70 326.30,487.70 319.70,487.70" fill="#006400"/>
<polygon points="325.70,481.70 329.00,487.70 322.40,487.70" fill="#006400"/>
<polygon points="336.50,479.10 339.80,482.40 336.50,485.70 333.20,482.40" fill="#000"/>
<polygon points="339.50,479.90 342.80,483.20 339.50,486.50 336.20,483.20" fill="#000"/>
<polygon points="342.50,480.90 345.80,484.20 342.50,487.50 339.20,484.20" fill="#000"/>
<polygon points="346.50,482.10 349.80,485.40 346.50,488.70 343.20,485.40" fill="#000"/>
<polygon points="336.60,481.70 339.90,485.00 336.60,488.30 333.30,485.00" fill="#000"/>
<polygon points="340.00,483.00 343.30,486.30 340.00,489.60 336.70,486.30" fill="#000"/>
<polygon points="343.00,483.20 346.30,486.50 343.00,489.80 339.70,486.50" fill="#000"/>
<polygon points="339.50,481.50 342.80,484.80 339.50,488.10 336.20,484.80" fill="#000"/>
<text x="405.00" y="306.20" font-size="18" fill="#000" font-weight="bold" textLength="11.10" lengthAdjust="spacingAndGlyphs" stroke="#000" stroke-width="0.5">c</text>
<line x1="461.90" y1="311.12" x2="461.90" y2="504.70" stroke="#8c8c8c" stroke-width="1.2" />
<line x1="455.80" y1="504.20" x2="685.00" y2="504.20" stroke="#8c8c8c" stroke-width="1.2" />
<line x1="455.80" y1="504.10" x2="461.90" y2="504.10" stroke="#8c8c8c" stroke-width="1.2" />
<text x="451.60" y="508.90" font-size="11.8" text-anchor="end" fill="#222" font-weight="normal" font-style="normal" >0</text>
<line x1="455.80" y1="455.98" x2="461.90" y2="455.98" stroke="#8c8c8c" stroke-width="1.2" />
<text x="451.60" y="460.78" font-size="11.8" text-anchor="end" fill="#222" font-weight="normal" font-style="normal" >20</text>
<line x1="455.80" y1="407.86" x2="461.90" y2="407.86" stroke="#8c8c8c" stroke-width="1.2" />
<text x="451.60" y="412.66" font-size="11.8" text-anchor="end" fill="#222" font-weight="normal" font-style="normal" >40</text>
<line x1="455.80" y1="359.74" x2="461.90" y2="359.74" stroke="#8c8c8c" stroke-width="1.2" />
<text x="451.60" y="364.54" font-size="11.8" text-anchor="end" fill="#222" font-weight="normal" font-style="normal" >60</text>
<line x1="455.80" y1="311.62" x2="461.90" y2="311.62" stroke="#8c8c8c" stroke-width="1.2" />
<text x="451.60" y="316.42" font-size="11.8" text-anchor="end" fill="#222" font-weight="normal" font-style="normal" >80</text>
<text x="0" y="0" font-size="12.5" fill="#222" text-anchor="middle" textLength="182.80" lengthAdjust="spacingAndGlyphs" transform="translate(414.30 409.40) rotate(-90)">Percentage of inhibition relative</text>
<text x="0" y="0" font-size="12.5" fill="#222" text-anchor="middle" textLength="84.70" lengthAdjust="spacingAndGlyphs" transform="translate(428.00 409.40) rotate(-90)">to control (D0)</text>
<text x="504.50" y="518.30" font-size="10.6" fill="#3030d8" font-weight="normal" textLength="20.90" lengthAdjust="spacingAndGlyphs" >CS2</text>
<text x="621.10" y="518.30" font-size="10.6" fill="#b42c2c" font-weight="normal" textLength="26.50" lengthAdjust="spacingAndGlyphs" >NF54</text>
<text x="513.4" y="537.6" font-size="12.4" fill="#1a1a1a" textLength="123.2" lengthAdjust="spacingAndGlyphs"><tspan font-style="italic">P. falciparum</tspan> isolates</text>
<line x1="478.90" y1="315.50" x2="551.50" y2="315.50" stroke="#7a7a7a" stroke-width="1.1" />
<polygon points="508.40,306.90 509.13,309.19 511.54,309.18 509.59,310.59 510.34,312.87 508.40,311.45 506.46,312.87 507.21,310.59 505.26,309.18 507.67,309.19" fill="#111"/>
<polygon points="515.20,306.90 515.93,309.19 518.34,309.18 516.39,310.59 517.14,312.87 515.20,311.45 513.26,312.87 514.01,310.59 512.06,309.18 514.47,309.19" fill="#111"/>
<polygon points="522.00,306.90 522.73,309.19 525.14,309.18 523.19,310.59 523.94,312.87 522.00,311.45 520.06,312.87 520.81,310.59 518.86,309.18 521.27,309.19" fill="#111"/>
<line x1="621.70" y1="314.50" x2="664.80" y2="314.50" stroke="#bdbdbd" stroke-width="1.6" />
<polygon points="639.85,305.40 640.58,307.69 642.99,307.68 641.04,309.09 641.79,311.37 639.85,309.95 637.91,311.37 638.66,309.09 636.71,307.68 639.12,307.69" fill="#111"/>
<polygon points="646.65,305.40 647.38,307.69 649.79,307.68 647.84,309.09 648.59,311.37 646.65,309.95 644.71,311.37 645.46,309.09 643.51,307.68 645.92,307.69" fill="#111"/>
<defs><clipPath id="cc"><rect x="462" y="300" width="223" height="203.6"/></clipPath></defs>
<g clip-path="url(#cc)">
<line x1="480.20" y1="433.40" x2="480.20" y2="469.40" stroke="#555" stroke-width="1.0" />
<line x1="476.40" y1="433.40" x2="484.00" y2="433.40" stroke="#555" stroke-width="1.0" />
<line x1="476.40" y1="469.40" x2="484.00" y2="469.40" stroke="#555" stroke-width="1.0" />
<line x1="470.40" y1="451.30" x2="488.90" y2="451.30" stroke="#555" stroke-width="1.2" />
<circle cx="480.0" cy="343.5" r="3.2" fill="#0000c8"/>
<circle cx="480.2" cy="401.3" r="3.2" fill="#0000c8"/>
<circle cx="480.2" cy="411.0" r="3.2" fill="#0000c8"/>
<circle cx="473.7" cy="472.1" r="3.2" fill="#0000c8"/>
<circle cx="486.0" cy="470.8" r="3.2" fill="#0000c8"/>
<circle cx="486.0" cy="480.5" r="3.2" fill="#0000c8"/>
<circle cx="473.7" cy="485.0" r="3.2" fill="#0000c8"/>
<circle cx="479.8" cy="495.4" r="3.2" fill="#0000c8"/>
<circle cx="479.8" cy="503.8" r="3.2" fill="#0000c8"/>
<line x1="502.40" y1="498.40" x2="502.40" y2="504.50" stroke="#555" stroke-width="1.0" />
<line x1="498.10" y1="498.40" x2="506.70" y2="498.40" stroke="#555" stroke-width="1.0" />
<line x1="493.30" y1="500.30" x2="511.70" y2="500.30" stroke="#666" stroke-width="1.2" />
<rect x="495.52" y="487.42" width="5.95" height="5.95" fill="none" stroke="#cf5050" stroke-width="1.05"/>
<rect x="499.72" y="490.82" width="5.95" height="5.95" fill="none" stroke="#cf5050" stroke-width="1.05"/>
<rect x="493.52" y="501.32" width="5.95" height="5.95" fill="none" stroke="#cf5050" stroke-width="1.05"/>
<rect x="497.02" y="501.32" width="5.95" height="5.95" fill="none" stroke="#cf5050" stroke-width="1.05"/>
<rect x="500.52" y="501.32" width="5.95" height="5.95" fill="none" stroke="#cf5050" stroke-width="1.05"/>
<rect x="504.02" y="501.32" width="5.95" height="5.95" fill="none" stroke="#cf5050" stroke-width="1.05"/>
<rect x="505.52" y="501.32" width="5.95" height="5.95" fill="none" stroke="#cf5050" stroke-width="1.05"/>
<line x1="524.60" y1="493.50" x2="524.60" y2="504.50" stroke="#8a8a8a" stroke-width="1.0" />
<line x1="520.00" y1="493.50" x2="529.20" y2="493.50" stroke="#8a8a8a" stroke-width="1.0" />
<line x1="515.90" y1="498.70" x2="534.30" y2="498.70" stroke="#c4c4c4" stroke-width="1.2" />
<polygon points="525.00,453.60 528.20,459.60 521.80,459.60" fill="#006400"/>
<polygon points="520.50,500.78 523.60,507.18 517.40,507.18" fill="#006400"/>
<polygon points="523.50,500.78 526.60,507.18 520.40,507.18" fill="#006400"/>
<polygon points="526.50,500.78 529.60,507.18 523.40,507.18" fill="#006400"/>
<polygon points="529.00,500.78 532.10,507.18 525.90,507.18" fill="#006400"/>
<polygon points="530.50,500.78 533.60,507.18 527.40,507.18" fill="#006400"/>
<line x1="547.50" y1="499.20" x2="547.50" y2="504.50" stroke="#333" stroke-width="1.0" />
<line x1="543.50" y1="499.20" x2="551.50" y2="499.20" stroke="#333" stroke-width="1.0" />
<line x1="538.30" y1="501.30" x2="556.90" y2="501.30" stroke="#333" stroke-width="1.2" />
<polygon points="547.40,479.30 550.70,482.60 547.40,485.90 544.10,482.60" fill="#000"/>
<polygon points="547.40,485.60 550.70,488.90 547.40,492.20 544.10,488.90" fill="#000"/>
<polygon points="542.30,500.90 545.60,504.20 542.30,507.50 539.00,504.20" fill="#000"/>
<polygon points="545.00,500.90 548.30,504.20 545.00,507.50 541.70,504.20" fill="#000"/>
<polygon points="547.50,500.90 550.80,504.20 547.50,507.50 544.20,504.20" fill="#000"/>
<polygon points="550.00,500.90 553.30,504.20 550.00,507.50 546.70,504.20" fill="#000"/>
<polygon points="552.50,500.90 555.80,504.20 552.50,507.50 549.20,504.20" fill="#000"/>
<line x1="624.00" y1="380.40" x2="624.00" y2="423.00" stroke="#9a9a9a" stroke-width="1.0" />
<line x1="619.40" y1="380.40" x2="628.60" y2="380.40" stroke="#9a9a9a" stroke-width="1.0" />
<line x1="619.40" y1="423.00" x2="628.60" y2="423.00" stroke="#9a9a9a" stroke-width="1.0" />
<line x1="615.10" y1="401.70" x2="632.80" y2="401.70" stroke="#8a8a8a" stroke-width="1.2" />
<rect x="621.02" y="320.32" width="5.95" height="5.95" fill="none" stroke="#cf5050" stroke-width="1.05"/>
<rect x="621.02" y="339.62" width="5.95" height="5.95" fill="none" stroke="#cf5050" stroke-width="1.05"/>
<rect x="621.02" y="370.92" width="5.95" height="5.95" fill="none" stroke="#cf5050" stroke-width="1.05"/>
<rect x="614.32" y="380.92" width="5.95" height="5.95" fill="none" stroke="#cf5050" stroke-width="1.05"/>
<rect x="627.42" y="380.92" width="5.95" height="5.95" fill="none" stroke="#cf5050" stroke-width="1.05"/>
<rect x="621.02" y="390.32" width="5.95" height="5.95" fill="none" stroke="#cf5050" stroke-width="1.05"/>
<rect x="621.02" y="402.52" width="5.95" height="5.95" fill="none" stroke="#cf5050" stroke-width="1.05"/>
<rect x="614.32" y="501.02" width="5.95" height="5.95" fill="none" stroke="#cf5050" stroke-width="1.05"/>
<rect x="627.32" y="501.02" width="5.95" height="5.95" fill="none" stroke="#cf5050" stroke-width="1.05"/>
<line x1="601.40" y1="487.60" x2="601.40" y2="497.30" stroke="#3a3ad0" stroke-width="1.0" />
<line x1="597.20" y1="487.60" x2="605.60" y2="487.60" stroke="#3a3ad0" stroke-width="1.0" />
<line x1="597.20" y1="497.30" x2="605.60" y2="497.30" stroke="#3a3ad0" stroke-width="1.0" />
<line x1="592.30" y1="492.20" x2="610.70" y2="492.20" stroke="#3a3ad0" stroke-width="1.2" />
<circle cx="598.4" cy="467.7" r="3.2" fill="#0000c8"/>
<circle cx="601.4" cy="472.8" r="3.2" fill="#0000c8"/>
<circle cx="601.4" cy="479.9" r="3.2" fill="#0000c8"/>
<circle cx="601.4" cy="489.5" r="3.2" fill="#0000c8"/>
<circle cx="595.3" cy="504.1" r="3.2" fill="#0000c8"/>
<circle cx="598.0" cy="504.1" r="3.2" fill="#0000c8"/>
<circle cx="601.0" cy="504.1" r="3.2" fill="#0000c8"/>
<circle cx="604.0" cy="504.1" r="3.2" fill="#0000c8"/>
<circle cx="607.3" cy="504.1" r="3.2" fill="#0000c8"/>
<line x1="646.40" y1="471.50" x2="646.40" y2="486.90" stroke="#555" stroke-width="1.0" />
<line x1="641.90" y1="471.50" x2="650.90" y2="471.50" stroke="#555" stroke-width="1.0" />
<line x1="641.90" y1="486.90" x2="650.90" y2="486.90" stroke="#555" stroke-width="1.0" />
<line x1="637.50" y1="479.30" x2="655.40" y2="479.30" stroke="#666" stroke-width="1.2" />
<polygon points="652.70,447.90 655.90,453.90 649.50,453.90" fill="#006400"/>
<polygon points="648.60,450.00 651.80,456.00 645.40,456.00" fill="#006400"/>
<polygon points="644.50,452.60 647.70,458.60 641.30,458.60" fill="#006400"/>
<polygon points="648.60,465.40 651.80,471.40 645.40,471.40" fill="#006400"/>
<polygon points="644.10,466.90 647.30,472.90 640.90,472.90" fill="#006400"/>
<polygon points="644.10,495.90 647.30,501.90 640.90,501.90" fill="#006400"/>
<polygon points="640.50,501.10 643.40,507.10 637.60,507.10" fill="#006400"/>
<polygon points="648.50,501.10 651.40,507.10 645.60,507.10" fill="#006400"/>
<polygon points="651.50,501.10 654.40,507.10 648.60,507.10" fill="#006400"/>
<line x1="664.30" y1="477.70" x2="664.30" y2="492.20" stroke="#222" stroke-width="1.0" />
<line x1="660.10" y1="477.70" x2="668.50" y2="477.70" stroke="#222" stroke-width="1.0" />
<line x1="660.10" y1="492.20" x2="668.50" y2="492.20" stroke="#222" stroke-width="1.0" />
<line x1="655.40" y1="485.30" x2="673.50" y2="485.30" stroke="#222" stroke-width="1.2" />
<polygon points="664.50,431.30 667.80,434.60 664.50,437.90 661.20,434.60" fill="#000"/>
<polygon points="664.50,447.50 667.80,450.80 664.50,454.10 661.20,450.80" fill="#000"/>
<polygon points="664.50,450.00 667.80,453.30 664.50,456.60 661.20,453.30" fill="#000"/>
<polygon points="664.30,469.50 667.60,472.80 664.30,476.10 661.00,472.80" fill="#000"/>
<polygon points="664.30,473.60 667.60,476.90 664.30,480.20 661.00,476.90" fill="#000"/>
<polygon points="664.30,490.50 667.60,493.80 664.30,497.10 661.00,493.80" fill="#000"/>
<polygon points="660.50,495.80 663.80,499.10 660.50,502.40 657.20,499.10" fill="#000"/>
<polygon points="659.50,500.90 662.80,504.20 659.50,507.50 656.20,504.20" fill="#000"/>
<polygon points="662.50,500.90 665.80,504.20 662.50,507.50 659.20,504.20" fill="#000"/>
<polygon points="665.50,500.90 668.80,504.20 665.50,507.50 662.20,504.20" fill="#000"/>
<polygon points="668.50,500.90 671.80,504.20 668.50,507.50 665.20,504.20" fill="#000"/>
<polygon points="669.50,500.90 672.80,504.20 669.50,507.50 666.20,504.20" fill="#000"/>
</g>
</svg>
</body></html>
